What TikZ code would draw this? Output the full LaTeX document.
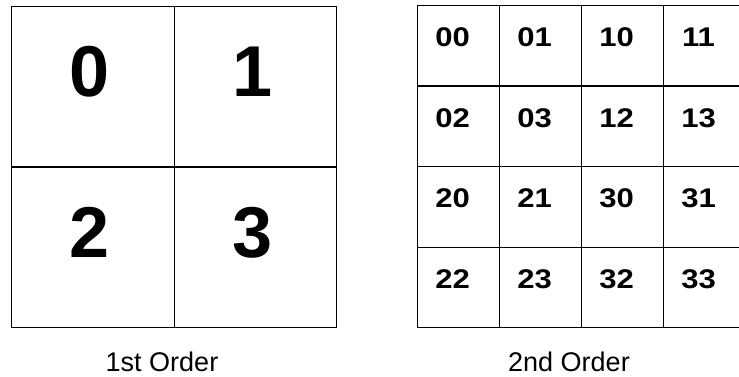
\documentclass[tikz,border=0pt]{standalone}
\usepackage{fontspec}
\setmainfont{Liberation Sans}
\usepackage{graphicx}
\usetikzlibrary{positioning}
\tikzset{
  bigcell/.style={draw=black, line width=1.1pt, minimum width=162.5pt, minimum height=160.5pt, inner sep=0pt, anchor=north west},
  smallcell/.style={draw=black, line width=1.1pt, minimum width=82pt, minimum height=80.5pt, inner sep=0pt, anchor=north west},
  bignum/.style={font=\fontsize{72}{80}\selectfont\bfseries, inner sep=0pt, anchor=base},
  smallnum/.style={font=\fontsize{27}{30}\selectfont\bfseries, inner sep=0pt, anchor=base},
  caption/.style={font=\fontsize{27}{30}\selectfont, inner sep=0pt, anchor=base}
}
\begin{document}
\begin{tikzpicture}[x=1pt, y=-1pt]
  \fill[white] (0,0) rectangle (739,377);
  \path[use as bounding box, clip] (0,0) rectangle (739,377);
  % first order grid
  \foreach \n/\i/\j in {0/0/0,1/1/0,2/0/1,3/1/1} {
    \node[bigcell] (q\n) at (11+\i*162.5, 6+\j*160.5) {};
    \node[bignum, xshift=-3pt, yshift=-10pt] (d\n) at (q\n.center) {\n};
  }
  % second order grid
  \foreach \lab [count=\k from 0] in {00,01,10,11,02,03,12,13,20,21,30,31,22,23,32,33} {
    \pgfmathtruncatemacro\col{mod(\k,4)}
    \pgfmathtruncatemacro\row{div(\k,4)}
    \node[smallcell] (s\lab) at (417+\col*82, 5+\row*80.5) {};
    \node[smallnum, xshift=-6pt, yshift=-1pt] (t\lab) at (s\lab.center) {\scalebox{1.15}[1]{\lab}};
  }
  \node[caption] (cap1) at (162,371) {1st Order};
  \node[caption] (cap2) at (569,371) {2nd Order};
\end{tikzpicture}
\end{document}
